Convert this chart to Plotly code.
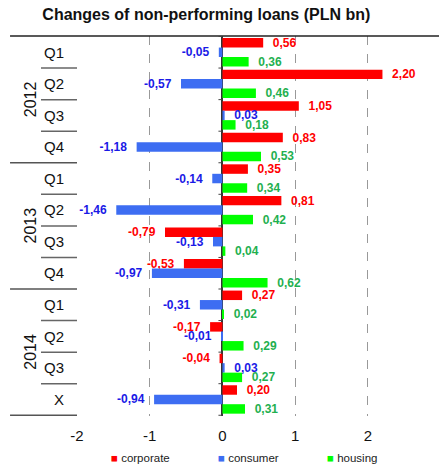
import plotly.graph_objects as go

# Quarterly changes of non-performing loans, PLN bn
years = ["2012", "2012", "2012", "2012",
         "2013", "2013", "2013", "2013",
         "2014", "2014", "2014", "2014"]
periods = ["Q1", "Q2", "Q3", "Q4", "Q1", "Q2", "Q3", "Q4", "Q1", "Q2", "Q3", "X"]

corporate = [0.56, 2.20, 1.05, 0.83, 0.35, 0.81, -0.79, -0.53, 0.27, -0.17, -0.04, 0.20]
consumer = [-0.05, -0.57, 0.03, -1.18, -0.14, -1.46, -0.13, -0.97, -0.31, -0.01, 0.03, -0.94]
housing = [0.36, 0.46, 0.18, 0.53, 0.34, 0.42, 0.04, 0.62, 0.02, 0.29, 0.27, 0.31]

x_ticks = [-2, -1, 0, 1, 2]

categories = [f"{y} {p}" for y, p in zip(years, periods)]

series = [
    ("corporate", corporate, "#ff0000", "#ff0000"),
    ("consumer", consumer, "#3d6df2", "#1a1ae6"),
    ("housing", housing, "#00ff00", "#1fb050"),
]

FONT = "Liberation Sans, Arial, sans-serif"
GAP = "\u00a0\u00a0"


def fmt(v):
    s = f"{v:.2f}".replace(".", ",")
    # keep a little air between the bar end and its value
    return s + GAP if v < 0 else GAP + s


fig = go.Figure()
for name, vals, bar_col, txt_col in series:
    fig.add_trace(go.Bar(
        y=categories, x=vals, name=name, orientation="h",
        marker=dict(color=bar_col, line=dict(width=0)),
        text=[fmt(v) for v in vals], textposition="outside",
        textfont=dict(family=FONT, size=12, color=txt_col, weight="bold"),
        constraintext="none", cliponaxis=False, showlegend=False,
    ))

n = len(categories)
shapes = []
# frame lines of the label column
shapes.append(dict(type="line", xref="paper", yref="paper", x0=-0.186, x1=1.01,
                   y0=1, y1=1, line=dict(color="#222", width=1.5)))
for i in range(n):
    b = i + 0.5
    if i == n - 1 or years[i] != years[i + 1]:
        x0 = -0.186
        col = "#555"
    else:
        x0 = -0.1
        col = "#666"
    shapes.append(dict(type="line", xref="paper", yref="y", x0=x0, x1=0,
                       y0=b, y1=b, line=dict(color=col, width=1.5)))
# small ticks on the zero line at category boundaries
for i in range(n + 1):
    b = i - 0.5
    shapes.append(dict(type="line", xref="x", yref="y", xsizemode="pixel",
                       xanchor=0, x0=-4, x1=0, y0=b, y1=b,
                       line=dict(color="#444", width=1)))

annotations = []
# year labels
for yr in sorted(set(years)):
    idx = [i for i, y in enumerate(years) if y == yr]
    annotations.append(dict(text=yr, xref="paper", yref="y", x=-0.158,
                            y=sum(idx) / len(idx), showarrow=False, textangle=-90,
                            font=dict(family=FONT, size=16, color="#111")))
# legend row
legend_x = [0.089, 0.387, 0.689]
for (name, _, bar_col, _), lx in zip(series, legend_x):
    annotations.append(dict(
        text=f"<span style='color:{bar_col}'>■</span> {name}",
        xref="paper", yref="paper", x=lx, y=-0.111, xanchor="left", yanchor="middle",
        showarrow=False, font=dict(family=FONT, size=11.5, color="#222")))

fig.update_layout(
    width=439, height=466,
    margin=dict(l=77, r=2, t=36, b=50),
    paper_bgcolor="white", plot_bgcolor="white",
    barmode="group", bargap=0.1, bargroupgap=0,
    title=dict(text="<b>Changes of non-performing loans (PLN bn)</b>",
               x=0.47, xref="container", xanchor="center",
               y=1 - 14 / 466, yref="container", yanchor="middle",
               font=dict(family=FONT, size=16, color="#111")),
    xaxis=dict(range=[-2, 2.95], tickvals=x_ticks, ticktext=[str(t) for t in x_ticks],
               showgrid=True, gridcolor="#999", griddash="dash", gridwidth=1,
               zeroline=True, zerolinecolor="#333", zerolinewidth=1.5,
               showline=False, ticks="", ticklabelstandoff=9,
               tickfont=dict(family=FONT, size=15, color="#111")),
    yaxis=dict(type="category", categoryarray=categories, categoryorder="array",
               autorange="reversed", tickvals=categories, ticktext=periods,
               showgrid=False, zeroline=False, showline=False, ticks="",
               ticklabelstandoff=12,
               tickfont=dict(family=FONT, size=15, color="#111")),
    shapes=shapes, annotations=annotations,
)

fig.write_html("out.html")
